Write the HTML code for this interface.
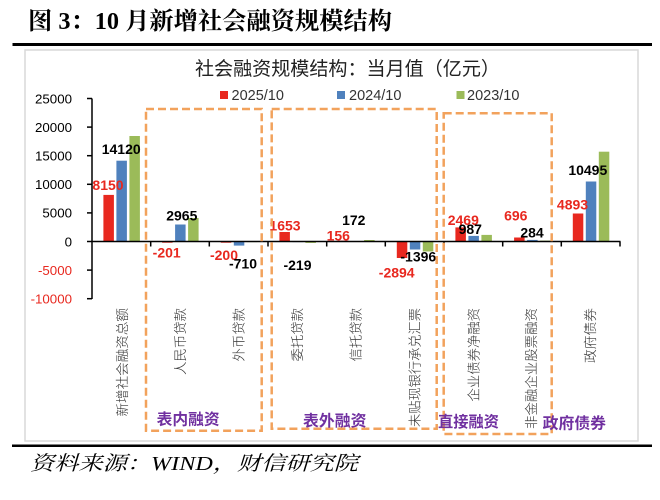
<!DOCTYPE html>
<html>
<head>
<meta charset="utf-8">
<style>
html,body{margin:0;padding:0;background:#fff;}
svg{display:block;}
</style>
</head>
<body>
<svg width="660" height="500" viewBox="0 0 660 500" xmlns="http://www.w3.org/2000/svg">
  <rect x="0" y="0" width="660" height="500" fill="#fff"/>
  <!-- Figure title -->
  <text x="28" y="29" font-family="'Liberation Serif','Noto Serif CJK SC',serif" font-weight="bold" font-size="24" fill="#000" textLength="364" lengthAdjust="spacingAndGlyphs">图 3：10 月新增社会融资规模结构</text>
  <rect x="12.5" y="43" width="639.5" height="3" fill="#000"/>

  <!-- chart frame -->
  <rect x="25" y="50" width="613" height="391" fill="#fff" stroke="#d9d9d9" stroke-width="1.5"/>

  <!-- chart title -->
  <text x="195" y="75" font-family="'Liberation Sans','Noto Sans CJK SC',sans-serif" font-size="19" fill="#222" textLength="305" lengthAdjust="spacingAndGlyphs">社会融资规模结构：当月值（亿元）</text>

  <!-- legend -->
  <g font-family="'Liberation Sans',sans-serif" font-size="14.5" fill="#333">
    <rect x="220" y="91" width="8" height="8" fill="#E8281F"/>
    <text x="231.5" y="100">2025/10</text>
    <rect x="337" y="91" width="8" height="8" fill="#4F81BD"/>
    <text x="349" y="100">2024/10</text>
    <rect x="456.5" y="91" width="8" height="8" fill="#9BBB59"/>
    <text x="467" y="100">2023/10</text>
  </g>

  <!-- y axis labels -->
  <g font-family="'Liberation Sans',sans-serif" font-size="13.3" text-anchor="end">
    <text x="72" y="103.3" fill="#000">25000</text>
    <text x="72" y="131.9" fill="#000">20000</text>
    <text x="72" y="160.5" fill="#000">15000</text>
    <text x="72" y="189.1" fill="#000">10000</text>
    <text x="72" y="217.7" fill="#000">5000</text>
    <text x="72" y="246.3" fill="#000">0</text>
    <text x="72" y="274.9" fill="#E8281F">-5000</text>
    <text x="72" y="303.5" fill="#E8281F">-10000</text>
  </g>

  <!-- bars -->
  <g>
    <!-- cat 0 -->
    <rect x="103.4" y="194.9" width="10.5" height="46.6" fill="#E8281F"/>
    <rect x="116.4" y="160.7" width="10.5" height="80.8" fill="#4F81BD"/>
    <rect x="129.4" y="136" width="10.5" height="105.5" fill="#9BBB59"/>
    <!-- cat 1 -->
    <rect x="162.1" y="241.5" width="10.5" height="1.2" fill="#E8281F"/>
    <rect x="175.1" y="224.5" width="10.5" height="17" fill="#4F81BD"/>
    <rect x="188.1" y="218.0" width="10.5" height="23.5" fill="#9BBB59"/>
    <!-- cat 2 -->
    <rect x="220.8" y="241.5" width="10.5" height="1.2" fill="#E8281F"/>
    <rect x="233.8" y="241.5" width="10.5" height="4.1" fill="#4F81BD"/>
    <rect x="246.8" y="241.5" width="10.5" height="0.6" fill="#9BBB59"/>
    <!-- cat 3 -->
    <rect x="279.4" y="232" width="10.5" height="9.5" fill="#E8281F"/>
    <rect x="292.4" y="241.5" width="10.5" height="0.6" fill="#4F81BD"/>
    <rect x="305.4" y="241.5" width="10.5" height="1.4" fill="#9BBB59"/>
    <!-- cat 4 -->
    <rect x="338.1" y="240.6" width="10.5" height="0.9" fill="#E8281F"/>
    <rect x="351.1" y="241.3" width="10.5" height="0.2" fill="#4F81BD"/>
    <rect x="364.1" y="240" width="10.5" height="1.5" fill="#9BBB59"/>
    <!-- cat 5 -->
    <rect x="396.8" y="241.5" width="10.5" height="16.5" fill="#E8281F"/>
    <rect x="409.8" y="241.5" width="10.5" height="8" fill="#4F81BD"/>
    <rect x="422.8" y="241.5" width="10.5" height="10" fill="#9BBB59"/>
    <!-- cat 6 -->
    <rect x="455.4" y="227.4" width="10.5" height="14.1" fill="#E8281F"/>
    <rect x="468.4" y="235.9" width="10.5" height="5.6" fill="#4F81BD"/>
    <rect x="481.4" y="234.9" width="10.5" height="6.6" fill="#9BBB59"/>
    <!-- cat 7 -->
    <rect x="514.1" y="237.5" width="10.5" height="4" fill="#E8281F"/>
    <rect x="527.1" y="239.9" width="10.5" height="1.6" fill="#4F81BD"/>
    <rect x="540.1" y="240.6" width="10.5" height="0.9" fill="#9BBB59"/>
    <!-- cat 8 -->
    <rect x="572.8" y="213.5" width="10.5" height="28" fill="#E8281F"/>
    <rect x="585.8" y="181.5" width="10.5" height="60" fill="#4F81BD"/>
    <rect x="598.8" y="151.7" width="10.5" height="89.8" fill="#9BBB59"/>
  </g>

  <!-- axes -->
  <g stroke="#000" stroke-width="1.5" fill="none">
    <line x1="92" y1="98.5" x2="92" y2="299"/>
    <line x1="87" y1="98.5" x2="92" y2="98.5"/>
    <line x1="87" y1="127.1" x2="92" y2="127.1"/>
    <line x1="87" y1="155.7" x2="92" y2="155.7"/>
    <line x1="87" y1="184.3" x2="92" y2="184.3"/>
    <line x1="87" y1="212.9" x2="92" y2="212.9"/>
    <line x1="87" y1="241.5" x2="92" y2="241.5"/>
    <line x1="87" y1="270.1" x2="92" y2="270.1"/>
    <line x1="87" y1="298.7" x2="92" y2="298.7"/>
    <line x1="92" y1="241.5" x2="620.5" y2="241.5"/>
    <line x1="150.7" y1="241.5" x2="150.7" y2="246.5"/>
    <line x1="209.3" y1="241.5" x2="209.3" y2="246.5"/>
    <line x1="268" y1="241.5" x2="268" y2="246.5"/>
    <line x1="326.7" y1="241.5" x2="326.7" y2="246.5"/>
    <line x1="385.3" y1="241.5" x2="385.3" y2="246.5"/>
    <line x1="444" y1="241.5" x2="444" y2="246.5"/>
    <line x1="502.7" y1="241.5" x2="502.7" y2="246.5"/>
    <line x1="561.3" y1="241.5" x2="561.3" y2="246.5"/>
    <line x1="620" y1="241.5" x2="620" y2="246.5"/>
  </g>

  <!-- data labels -->
  <g font-family="'Liberation Sans',sans-serif" font-size="14" font-weight="bold" text-anchor="middle">
    <text x="108" y="190" fill="#E8281F">8150</text>
    <text x="121.2" y="154" fill="#000">14120</text>
    <text x="181.8" y="220.7" fill="#000">2965</text>
    <text x="166.7" y="257.3" fill="#E8281F">-201</text>
    <text x="224" y="260" fill="#E8281F">-200</text>
    <text x="243" y="268.3" fill="#000">-710</text>
    <text x="285" y="230.7" fill="#E8281F">1653</text>
    <text x="297.5" y="270" fill="#000">-219</text>
    <text x="353.8" y="225" fill="#000">172</text>
    <text x="338.3" y="240.7" fill="#E8281F">156</text>
    <text x="396.7" y="277.7" fill="#E8281F">-2894</text>
    <text x="418.3" y="261.7" fill="#000">-1396</text>
    <text x="463.3" y="225" fill="#E8281F">2469</text>
    <text x="470.3" y="234" fill="#000">987</text>
    <text x="515.8" y="220.7" fill="#E8281F">696</text>
    <text x="532" y="237.7" fill="#000">284</text>
    <text x="572.5" y="209.3" fill="#E8281F">4893</text>
    <text x="587.8" y="175" fill="#000">10495</text>
  </g>

  <!-- category labels (rotated) -->
  <g font-family="'Liberation Sans','Noto Sans CJK SC',sans-serif" font-size="13.3" font-weight="300" fill="#333" text-anchor="end" dominant-baseline="central">
    <text transform="translate(122.5,308) rotate(-90)" textLength="108.5" lengthAdjust="spacingAndGlyphs">新增社会融资总额</text>
    <text transform="translate(180.5,308) rotate(-90)" textLength="67" lengthAdjust="spacingAndGlyphs">人民币贷款</text>
    <text transform="translate(239,308) rotate(-90)" textLength="53.5" lengthAdjust="spacingAndGlyphs">外币贷款</text>
    <text transform="translate(297.5,308) rotate(-90)" textLength="53.5" lengthAdjust="spacingAndGlyphs">委托贷款</text>
    <text transform="translate(356,308) rotate(-90)" textLength="53.5" lengthAdjust="spacingAndGlyphs">信托贷款</text>
    <text transform="translate(415,308) rotate(-90)" textLength="119" lengthAdjust="spacingAndGlyphs">未贴现银行承兑汇票</text>
    <text transform="translate(474,308) rotate(-90)" textLength="93.5" lengthAdjust="spacingAndGlyphs">企业债券净融资</text>
    <text transform="translate(531.7,308) rotate(-90)" textLength="121" lengthAdjust="spacingAndGlyphs">非金融企业股票融资</text>
    <text transform="translate(590.7,308) rotate(-90)" textLength="55" lengthAdjust="spacingAndGlyphs">政府债券</text>
  </g>

  <!-- dashed group boxes -->
  <g fill="none" stroke="#F2A25C" stroke-width="2.5" stroke-dasharray="8 4">
    <rect x="146" y="109" width="115.7" height="321.7"/>
    <rect x="271.7" y="109" width="165" height="319.7"/>
    <rect x="443.7" y="113.3" width="108" height="320.7"/>
  </g>

  <!-- group labels -->
  <g font-family="'Liberation Sans','Noto Sans CJK SC',sans-serif" font-size="15.5" font-weight="bold" fill="#7030A0">
    <text x="156.7" y="424.5" textLength="63" lengthAdjust="spacingAndGlyphs">表内融资</text>
    <text x="303" y="426.2" textLength="63.5" lengthAdjust="spacingAndGlyphs">表外融资</text>
    <text x="438" y="427.2" textLength="61" lengthAdjust="spacingAndGlyphs">直接融资</text>
    <text x="542.7" y="428.5" textLength="63.3" lengthAdjust="spacingAndGlyphs">政府债券</text>
  </g>

  <!-- bottom rule -->
  <rect x="12" y="444.5" width="640" height="2.5" fill="#000"/>

  <!-- source -->
  <text x="30" y="470" font-family="'Liberation Serif','Noto Serif CJK SC',serif" font-style="italic" font-size="20" fill="#000" textLength="328" lengthAdjust="spacingAndGlyphs">资料来源：WIND，财信研究院</text>
</svg>
</body>
</html>
